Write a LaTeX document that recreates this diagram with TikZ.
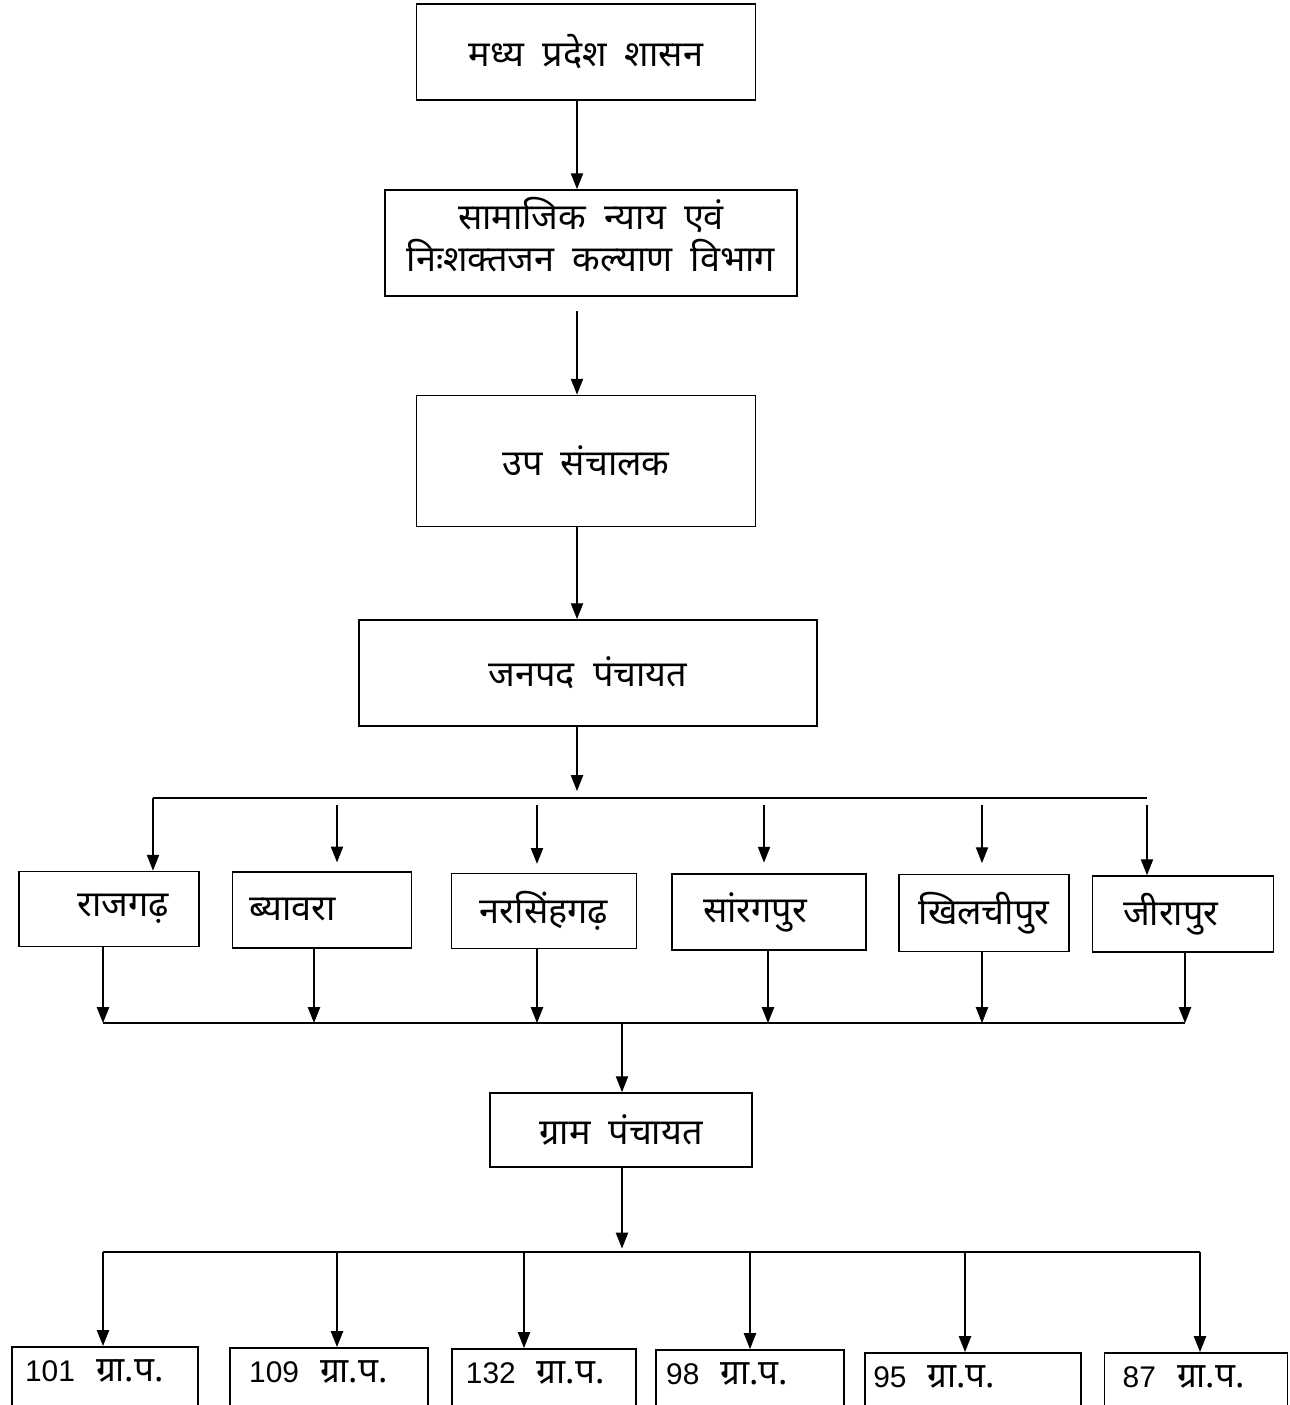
\documentclass[tikz,border=0pt]{standalone}
\usepackage{fontspec}
\setmainfont[Script=Devanagari]{Noto Sans}
\newfontfamily\numfont{Liberation Sans}
\newcommand\boxfont{\fontsize{20.5}{24}\selectfont\spaceskip 0.5em plus 0.1em\relax}
\newcommand\gpfont{\fontsize{20}{24}\selectfont\spaceskip 0.6em\relax}
\newcommand\num[1]{{\numfont\fontsize{17}{18}\selectfont #1}}
\usetikzlibrary{arrows.meta}

\begin{document}
\begin{tikzpicture}[x=0.02cm,y=-0.02cm,
   box/.style={draw,line width=1pt,inner sep=0pt,align=center,font=\boxfont},
   gpbox/.style={box,anchor=north,text height=0.70cm,text depth=0.74cm,font=\gpfont},
   link/.style={-{Triangle[length=9pt,width=7pt]},line width=0.6pt},
   bus/.style={line width=1pt}]
   \useasboundingbox (0,0) rectangle (1289,1405);
   % upper chain
   \node[box,minimum width=6.78cm,minimum height=1.92cm] (mp)   at (586,52)  {मध्य प्रदेश शासन};
   \node[box,minimum width=8.24cm,minimum height=2.12cm] (vibh) at (591,243) {\raisebox{10pt}{\shortstack{सामाजिक न्याय एवं\\[1pt] निःशक्तजन कल्याण विभाग}}};
   \node[box,minimum width=6.78cm,minimum height=2.62cm] (up)   at (586,461) {उप संचालक};
   \node[box,minimum width=9.16cm,minimum height=2.12cm] (jp)   at (588,673) {जनपद पंचायत};
   \path[link]
    (mp.south -| 577,0)   edge (vibh.north -| 577,0)
    (vibh.south -| 577,0) edge[shorten <=8pt] (up.north -| 577,0)
    (up.south -| 577,0)   edge (jp.north -| 577,0);
   % janpad blocks
   \node[box,minimum width=3.60cm,minimum height=1.50cm] (rjg) at (109,909)  {\hspace{16pt}राजगढ़};
   \node[box,minimum width=3.58cm,minimum height=1.52cm,text width=2.9cm,align=left] (byw) at (322,910) {ब्यावरा};
   \node[box,minimum width=3.70cm,minimum height=1.50cm] (nsg) at (544,911)  {नरसिंहगढ़};
   \node[box,minimum width=3.88cm,minimum height=1.52cm] (srp) at (769,912)  {सांरगपुर\hspace{16pt}};
   \node[box,minimum width=3.40cm,minimum height=1.54cm] (kcp) at (984,913)  {खिलचीपुर};
   \node[box,minimum width=3.62cm,minimum height=1.52cm] (jrp) at (1183,914) {जीरापुर\hspace{14pt}};
   \coordinate (top) at (577,798);
   \draw[bus] (153,798) -- (1147,798);
   \draw[link] (jp.south -| top) -- ([yshift=4pt]top);
   \draw[link] (153,798)  -- (rjg.north -| 153,0);
   \draw[link,shorten >=5pt] (337,805)  -- (byw.north -| 337,0);
   \draw[link,shorten >=5pt] (537,805)  -- (nsg.north -| 537,0);
   \draw[link,shorten >=6pt] (764,805)  -- (srp.north -| 764,0);
   \draw[link,shorten >=6pt] (982,805)  -- (kcp.north -| 982,0);
   \draw[link] (1147,805) -- (jrp.north -| 1147,0);
   % collect into gram panchayat
   \coordinate (mid) at (622,1023);
   \draw[bus] (103,1023) -- (1185,1023);
   \draw[link] (rjg.south -| 103,0)  -- (103,1023);
   \draw[link] (byw.south -| 314,0)  -- (314,1023);
   \draw[link] (nsg.south -| 537,0)  -- (537,1023);
   \draw[link] (srp.south -| 768,0)  -- (768,1023);
   \draw[link] (kcp.south -| 982,0)  -- (982,1023);
   \draw[link] (jrp.south -| 1185,0) -- (1185,1023);
   \node[box,minimum width=5.24cm,minimum height=1.48cm] (gp) at (621,1130) {ग्राम पंचायत};
   \draw[link] (mid) -- (gp.north -| mid);
   % gram panchayat counts
   \coordinate (low) at (622,1252);
   \draw[link] (gp.south -| low) -- ([yshift=2pt]low);
   \draw[bus] (103,1252) -- (1200,1252);
   \node[gpbox,minimum width=3.72cm] (g1) at (105,1346)  {\num{101} ग्रा.प.\hspace{12pt}};
   \node[gpbox,minimum width=3.96cm] (g2) at (329,1347)  {\num{109} ग्रा.प.\hspace{12pt}};
   \node[gpbox,minimum width=3.68cm] (g3) at (544,1348)  {\num{132} ग्रा.प.\hspace{10pt}};
   \node[gpbox,minimum width=3.76cm] (g4) at (750,1349)  {\num{98} ग्रा.प.\hspace{26pt}};
   \node[gpbox,minimum width=4.32cm] (g5) at (973,1352)  {\num{95} ग्रा.प.\hspace{44pt}};
   \node[gpbox,minimum width=3.66cm] (g6) at (1196,1352) {\num{87} ग्रा.प.\hspace{14pt}};
   \draw[link] (103,1252)  -- (g1.north -| 103,0);
   \draw[link] (337,1252)  -- (g2.north -| 337,0);
   \draw[link] (524,1252)  -- (g3.north -| 524,0);
   \draw[link] (750,1252)  -- (g4.north -| 750,0);
   \draw[link] (965,1252)  -- (g5.north -| 965,0);
   \draw[link] (1200,1252) -- (g6.north -| 1200,0);
\end{tikzpicture}
\end{document}
